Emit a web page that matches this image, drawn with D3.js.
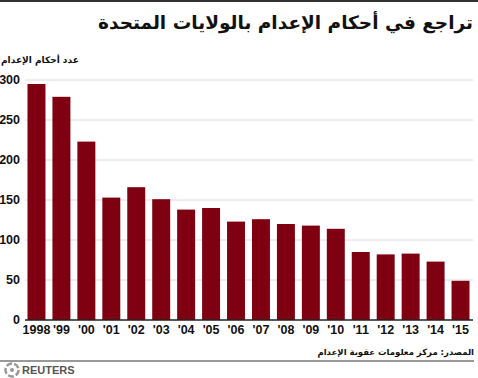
<!DOCTYPE html>
<html>
<head>
<meta charset="utf-8">
<script src="https://cdn.jsdelivr.net/npm/d3@7"></script>
<style>
  body { margin: 0; background: #fff; }
  svg { display: block; font-family: "Liberation Sans", Arial, sans-serif; }
</style>
</head>
<body>
<div id="chart"></div>
<script>
// data
const years = ["1998", "'99", "'00", "'01", "'02", "'03", "'04", "'05", "'06",
               "'07", "'08", "'09", "'10", "'11", "'12", "'13", "'14", "'15"];
const sentences = [295, 279, 223, 153, 166, 151, 138, 140, 123,
                   126, 120, 118, 114, 85, 82, 83, 73, 49];
const yTicks = [0, 50, 100, 150, 200, 250, 300];

const title = "تراجع في أحكام الإعدام بالولايات المتحدة";
const yTitle = "عدد أحكام الإعدام";
const source = "المصدر: مركز معلومات عقوبة الإعدام";

const width = 478, height = 378;
const margin = {top: 80, right: 5, bottom: 58, left: 25};

const svg = d3.select("#chart").append("svg")
    .attr("width", width)
    .attr("height", height);

// top rule
svg.append("rect")
    .attr("x", 0).attr("y", 0)
    .attr("width", width).attr("height", 2)
    .attr("fill", "#333");

// arabic texts: rtl, so "start" is the right edge
svg.append("text")
    .attr("x", 473).attr("y", 29)
    .attr("direction", "rtl")
    .attr("text-anchor", "start")
    .style("font-family", "'DejaVu Sans', sans-serif")
    .style("font-size", "18.5px")
    .style("font-weight", "bold")
    .attr("fill", "#111")
    .text(title);

svg.append("text")
    .attr("x", 1).attr("y", 63)
    .attr("direction", "rtl")
    .attr("text-anchor", "end")
    .style("font-family", "'DejaVu Sans', sans-serif")
    .style("font-size", "9px")
    .style("font-weight", "bold")
    .attr("fill", "#111")
    .text(yTitle);

let x = d3.scaleBand()
    .domain(years)
    .range([margin.left, 472])
    .paddingInner(0.28)
    .paddingOuter(0.1);

let y = d3.scaleLinear()
    .domain([0, 300])
    .range([height - margin.bottom, margin.top]);

// gridlines
svg.append("g")
    .selectAll("line")
    .data(yTicks.filter(d => d > 0))
    .enter()
    .append("line")
    .attr("x1", margin.left).attr("x2", 473)
    .attr("y1", d => y(d)).attr("y2", d => y(d))
    .attr("stroke", "#dcdcdc")
    .attr("stroke-width", 1);

// y labels
svg.append("g")
    .selectAll("text")
    .data(yTicks)
    .enter()
    .append("text")
    .attr("x", 20)
    .attr("y", d => y(d) + 4)
    .attr("text-anchor", "end")
    .style("font-size", "12.5px")
    .style("font-weight", "bold")
    .attr("fill", "#111")
    .text(d => d);

// bars
svg.append("g")
    .selectAll("rect")
    .data(sentences)
    .enter()
    .append("rect")
    .attr("x", (d, i) => x(years[i]))
    .attr("y", d => y(d))
    .attr("width", x.bandwidth())
    .attr("height", d => y(0) - y(d))
    .attr("fill", "#7e0011");

// baseline
svg.append("line")
    .attr("x1", margin.left).attr("x2", 473)
    .attr("y1", y(0)).attr("y2", y(0))
    .attr("stroke", "#222")
    .attr("stroke-width", 1.5);

// x labels
svg.append("g")
    .selectAll("text")
    .data(years)
    .enter()
    .append("text")
    .attr("x", d => x(d) + x.bandwidth() / 2)
    .attr("y", y(0) + 14)
    .attr("text-anchor", "middle")
    .style("font-size", "12.5px")
    .style("font-weight", "bold")
    .attr("fill", "#111")
    .text(d => d);

svg.append("text")
    .attr("x", 474).attr("y", 355)
    .attr("direction", "rtl")
    .attr("text-anchor", "start")
    .style("font-family", "'DejaVu Sans', sans-serif")
    .style("font-size", "8.5px")
    .style("font-weight", "bold")
    .attr("fill", "#111")
    .text(source);

// bottom rule
svg.append("line")
    .attr("x1", 0).attr("x2", 474)
    .attr("y1", 361).attr("y2", 361)
    .attr("stroke", "#777")
    .attr("stroke-width", 1.5);

// reuters logo
let logo = svg.append("g").attr("transform", "translate(12,370)");
logo.append("circle").attr("r", 6.5).attr("fill", "none")
    .attr("stroke", "#999").attr("stroke-width", 2.5)
    .attr("stroke-dasharray", "6 2");
logo.append("circle").attr("r", 2).attr("fill", "#999");

svg.append("text")
    .attr("x", 22).attr("y", 374)
    .style("font-size", "11px")
    .style("font-weight", "bold")
    .attr("fill", "#555")
    .text("REUTERS");
</script>
</body>
</html>
